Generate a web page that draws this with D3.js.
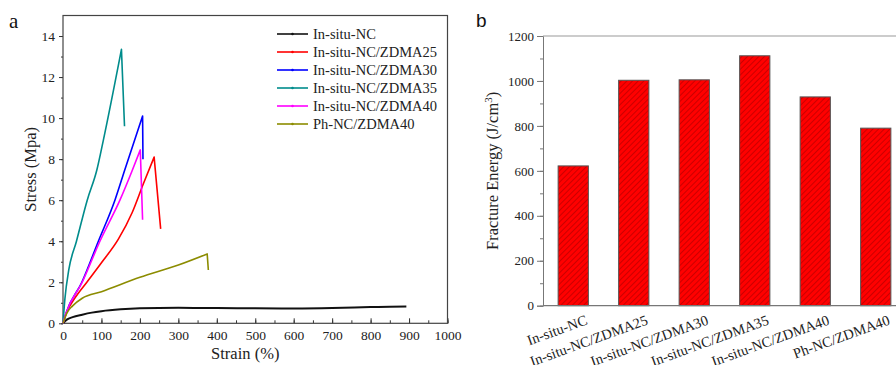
<!DOCTYPE html>
<html>
<head>
<meta charset="utf-8">
<script src="https://cdn.jsdelivr.net/npm/d3@7"></script>
</head>
<body style="margin:0;background:#fff">
<svg id="chart" width="896" height="365" style="display:block"></svg>
<script>
// ---- panel a: stress-strain curves ----
const seriesNames = ["In-situ-NC", "In-situ-NC/ZDMA25", "In-situ-NC/ZDMA30",
    "In-situ-NC/ZDMA35", "In-situ-NC/ZDMA40", "Ph-NC/ZDMA40"];
const seriesColors = ["#111111", "#ff0000", "#0000ff", "#008c8c", "#ff00ff", "#8c8c00"];

// [strain %, stress MPa]
const curveNC = [[0,0],[10,0.18],[25,0.3],[50,0.42],[75,0.52],[100,0.59],[150,0.68],[200,0.73],
    [300,0.76],[400,0.74],[500,0.73],[600,0.72],[700,0.74],[800,0.79],[850,0.81],[893,0.82]];
const curveZ25 = [[0,0],[10,0.55],[30,1.2],[62,2.0],[100,2.95],[144,4.1],[180,5.4],[209,6.8],[237,8.1],[254,4.6]];
const curveZ30 = [[0,0],[8,0.5],[49,2.0],[92,4.0],[135,6.0],[161,7.5],[207,10.1],[208,8.0]];
const curveZ35 = [[0,0],[5,1.2],[15,2.6],[35,4.0],[63,6.0],[88,7.47],[105,8.93],[152,13.35],[160,9.6]];
const curveZ40 = [[0,0],[8,0.5],[50,2.0],[96,4.0],[148,6.0],[179,7.4],[201,8.45],[207,5.05]];
const curvePh = [[0,0],[10,0.5],[25,0.85],[50,1.22],[100,1.54],[200,2.24],[300,2.84],[375,3.38],[378,2.6]];
const curves = [curveNC, curveZ25, curveZ30, curveZ35, curveZ40, curvePh];

const xTicksA = [0, 100, 200, 300, 400, 500, 600, 700, 800, 900, 1000];
const yTicksA = [0, 2, 4, 6, 8, 10, 12, 14];

// ---- panel b: fracture energy bars ----
const barNames = ["In-situ-NC", "In-situ-NC/ZDMA25", "In-situ-NC/ZDMA30",
    "In-situ-NC/ZDMA35", "In-situ-NC/ZDMA40", "Ph-NC/ZDMA40"];
const barValues = [622, 1003, 1005, 1112, 929, 790];
const yTicksB = [0, 200, 400, 600, 800, 1000, 1200];

const SERIF = "Liberation Serif";
const svg = d3.select("#chart").attr("font-family", SERIF);

// ================= panel a =================
const xA = d3.scaleLinear().domain([0, 1000]).range([63, 447.5]);
const yA = d3.scaleLinear().domain([0, 15]).range([323.3, 15.5]);

const gA = svg.append("g");

// x axis, ticks pointing inward
gA.append("g")
    .attr("transform", "translate(0," + yA(0) + ")")
    .call(d3.axisBottom(xA).tickValues(d3.range(0, 1001, 50)).tickSize(-3).tickFormat(""))
    .call(g => g.select(".domain").remove())
    .call(g => g.selectAll("line").attr("stroke", "#333"));
gA.append("g")
    .attr("transform", "translate(0," + yA(0) + ")")
    .call(d3.axisBottom(xA).tickValues(xTicksA).tickSize(-5).tickPadding(7).tickFormat(d3.format("d")))
    .attr("font-family", SERIF)
    .call(g => g.select(".domain").remove())
    .call(g => g.selectAll("line").attr("stroke", "#333"))
    .call(g => g.selectAll("text").attr("font-size", 13.5).attr("fill", "#222"));

// y axis, ticks pointing outward
gA.append("g")
    .attr("transform", "translate(" + xA(0) + ",0)")
    .call(d3.axisLeft(yA).tickValues(d3.range(0, 15, 1)).tickSize(2).tickFormat(""))
    .call(g => g.select(".domain").remove())
    .call(g => g.selectAll("line").attr("stroke", "#333"));
gA.append("g")
    .attr("transform", "translate(" + xA(0) + ",0)")
    .call(d3.axisLeft(yA).tickValues(yTicksA).tickSize(4).tickPadding(4))
    .attr("font-family", SERIF)
    .call(g => g.select(".domain").remove())
    .call(g => g.selectAll("line").attr("stroke", "#333"))
    .call(g => g.selectAll("text").attr("font-size", 13.5).attr("fill", "#222"));

// frame
gA.append("rect")
    .attr("x", xA(0)).attr("y", yA(15))
    .attr("width", xA(1000) - xA(0)).attr("height", yA(0) - yA(15))
    .attr("fill", "none").attr("stroke", "#444").attr("stroke-width", 1.2);

// curves: smooth rise, straight drop at the break
const line = d3.line().curve(d3.curveMonotoneX).x(d => xA(d[0])).y(d => yA(d[1]));
gA.selectAll("path.curve")
    .data(curves)
    .enter().append("path")
    .attr("class", "curve")
    .attr("fill", "none")
    .attr("stroke", (d, i) => seriesColors[i])
    .attr("stroke-width", (d, i) => i === 0 ? 2 : 1.6)
    .attr("stroke-linejoin", "round")
    .attr("d", d => {
        const last = d[d.length - 1];
        return line(d.slice(0, d.length - 1)) + "L" + xA(last[0]) + "," + yA(last[1]);
    });

// legend
const legend = gA.append("g").attr("transform", "translate(277,34)");
seriesNames.forEach((name, i) => {
    const row = legend.append("g").attr("transform", "translate(0," + i * 18 + ")");
    row.append("line").attr("x1", 0).attr("x2", 31).attr("y1", 0).attr("y2", 0)
        .attr("stroke", seriesColors[i]).attr("stroke-width", 1.6);
    row.append("circle").attr("cx", 15.5).attr("cy", 0).attr("r", 1.3).attr("fill", seriesColors[i]);
    row.append("text").attr("x", 36).attr("y", 5).attr("font-size", 14.5).attr("fill", "#222").text(name);
});

// titles
gA.append("text").attr("x", xA(500) - 10).attr("y", 359).attr("text-anchor", "middle")
    .attr("font-size", 16.5).attr("fill", "#222").text("Strain (%)");
gA.append("text").attr("transform", "translate(36," + yA(7.5) + ") rotate(-90)")
    .attr("text-anchor", "middle").attr("font-size", 16.5).attr("fill", "#222").text("Stress (Mpa)");
gA.append("text").attr("x", 9).attr("y", 28).attr("font-size", 21).attr("fill", "#111").text("a");

// ================= panel b =================
const xB = d3.scaleBand().domain(barNames).range([543, 906]).paddingInner(0.5).paddingOuter(0.25);
const yB = d3.scaleLinear().domain([0, 1200]).range([305.7, 36]);

const gB = svg.append("g");

const defs = svg.append("defs");
const pat = defs.append("pattern")
    .attr("id", "hatch")
    .attr("patternUnits", "userSpaceOnUse")
    .attr("width", 4).attr("height", 4)
    .attr("patternTransform", "rotate(45)");
pat.append("rect").attr("width", 4).attr("height", 4).attr("fill", "#ff0000");
pat.append("line").attr("x1", 0).attr("y1", 0).attr("x2", 0).attr("y2", 4)
    .attr("stroke", "#a00000").attr("stroke-width", 1.1);

// bars
gB.selectAll("rect.bar")
    .data(barValues)
    .enter().append("rect")
    .attr("class", "bar")
    .attr("x", (d, i) => xB(barNames[i]))
    .attr("y", d => yB(d))
    .attr("width", xB.bandwidth())
    .attr("height", d => yB(0) - yB(d))
    .attr("fill", "url(#hatch)")
    .attr("stroke", "#555")
    .attr("stroke-width", 1);

// y axis
gB.append("g")
    .attr("transform", "translate(543,0)")
    .call(d3.axisLeft(yB).tickValues(d3.range(0, 1201, 100)).tickSize(3).tickFormat(""))
    .call(g => g.select(".domain").remove())
    .call(g => g.selectAll("line").attr("stroke", "#777"));
gB.append("g")
    .attr("transform", "translate(543,0)")
    .call(d3.axisLeft(yB).tickValues(yTicksB).tickSize(6).tickPadding(3).tickFormat(d3.format("d")))
    .attr("font-family", SERIF)
    .call(g => g.select(".domain").attr("stroke", "#777"))
    .call(g => g.selectAll("line").attr("stroke", "#777"))
    .call(g => g.selectAll("text").attr("font-size", 13).attr("fill", "#222"));

// x axis line and top frame line
gB.append("line").attr("x1", 543).attr("x2", 906).attr("y1", yB(0)).attr("y2", yB(0))
    .attr("stroke", "#777").attr("stroke-width", 1.2);
gB.append("line").attr("x1", 543).attr("x2", 906).attr("y1", yB(1200)).attr("y2", yB(1200))
    .attr("stroke", "#999").attr("stroke-width", 1.2);

// rotated category labels
gB.selectAll("text.cat")
    .data(barNames)
    .enter().append("text")
    .attr("class", "cat")
    .attr("text-anchor", "end")
    .attr("font-size", 14.5)
    .attr("fill", "#222")
    .attr("transform", d => "translate(" + (xB(d) + xB.bandwidth() / 2 + 15) + ",324) rotate(-20)")
    .text(d => d);

// y title
const yTitle = gB.append("text")
    .attr("transform", "translate(498," + yB(600) + ") rotate(-90)")
    .attr("text-anchor", "middle").attr("font-size", 16.5).attr("fill", "#222");
yTitle.append("tspan").text("Fracture Energy (J/cm");
yTitle.append("tspan").attr("dy", -6).attr("font-size", 11).text("3");
yTitle.append("tspan").attr("dy", 6).text(")");

gB.append("text").attr("font-family", "Liberation Sans").attr("x", 476).attr("y", 27)
    .attr("font-size", 19).attr("fill", "#111").text("b");
</script>
</body>
</html>
